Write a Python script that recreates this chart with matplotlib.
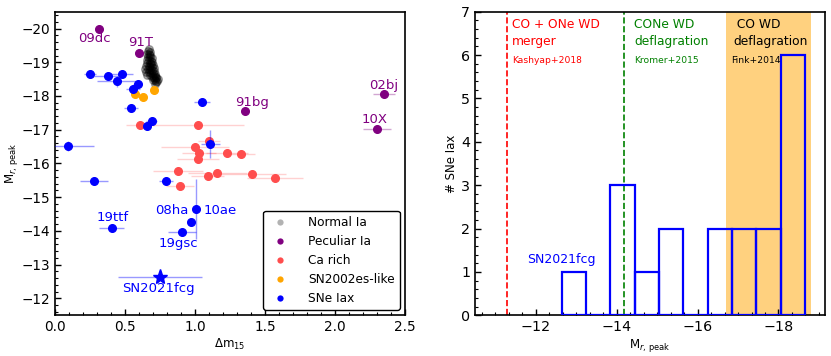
import numpy as np
import matplotlib
matplotlib.use('Agg')
import matplotlib.pyplot as plt
from matplotlib.ticker import MultipleLocator, AutoMinorLocator
from matplotlib.lines import Line2D

# normal SNe Ia (dense cluster)
norm_dm = [0.670, 0.665, 0.675, 0.660, 0.672, 0.682, 0.665, 0.678, 0.690, 0.655,
           0.668, 0.684, 0.696, 0.660, 0.675, 0.688, 0.700, 0.650, 0.668, 0.682,
           0.695, 0.706, 0.645, 0.662, 0.678, 0.692, 0.710, 0.652, 0.670, 0.686,
           0.700, 0.715, 0.660, 0.680, 0.698, 0.712, 0.724, 0.690, 0.708, 0.722,
           0.735, 0.700, 0.716, 0.730, 0.720, 0.712]
norm_mr = [-19.39, -19.33, -19.30, -19.25, -19.24, -19.22, -19.17, -19.15, -19.12, -19.08,
           -19.07, -19.05, -19.02, -18.98, -18.97, -18.95, -18.93, -18.90, -18.88, -18.87,
           -18.85, -18.83, -18.80, -18.79, -18.78, -18.76, -18.74, -18.72, -18.70, -18.69,
           -18.67, -18.65, -18.63, -18.62, -18.60, -18.58, -18.57, -18.55, -18.54, -18.52,
           -18.50, -18.48, -18.46, -18.45, -18.40, -18.36]

# peculiar Ia
pec_name = ['09dc', '91T', '91bg', '02bj', '10X']
pec_dm = [0.316, 0.60, 1.36, 2.35, 2.30]
pec_mr = [-20.0, -19.26, -17.56, -18.06, -17.01]
pec_dmerr = [0.0, 0.0, 0.0, 0.08, 0.10]

# Ca rich
ca_dm = [0.61, 1.02, 1.10, 1.00, 1.03, 1.02, 1.23, 1.33, 0.88, 1.16, 1.09, 1.41, 1.57, 0.89]
ca_mr = [-17.15, -17.13, -16.66, -16.49, -16.31, -16.14, -16.32, -16.27, -15.79, -15.73,
         -15.63, -15.68, -15.56, -15.34]
ca_dmerr = [0.10, 0.33, 0.08, 0.24, 0.12, 0.15, 0.15, 0.10, 0.18, 0.21, 0.12, 0.24, 0.20, 0.10]

# SN2002es-like
es_dm = [0.57, 0.63, 0.705]
es_mr = [-18.06, -17.96, -18.18]

# SNe Iax (last one is SN2021fcg)
iax_dm = [0.25, 0.38, 0.48, 0.44, 0.59, 0.56, 0.54, 0.69, 0.655, 1.05,
          1.11, 0.09, 0.28, 0.79, 0.405, 1.01, 0.97, 0.91, 0.75]
iax_mr = [-18.66, -18.60, -18.64, -18.43, -18.36, -18.21, -17.63, -17.26, -17.11, -17.82,
          -16.57, -16.51, -15.49, -15.47, -14.10, -14.65, -14.27, -13.96, -12.64]
iax_dmerr = [0.04, 0.10, 0.08, 0.14, 0.03, 0.05, 0.05, 0.04, 0.03, 0.06,
             0.07, 0.19, 0.10, 0.05, 0.09, 0.02, 0.02, 0.10, 0.30]
iax_mrerr = [0.10, 0.05, 0.05, 0.15, 0.10, 0.05, 0.10, 0.05, 0.10, 0.05,
             0.42, 0.15, 0.10, 0.08, 0.05, 0.88, 0.10, 0.08, 0.05]

iax_labels = {'19ttf': (0.41, -14.41, 'center'), '08ha': (0.957, -14.60, 'right'),
              '10ae': (1.06, -14.60, 'left'), '19gsc': (0.88, -13.62, 'center'),
              'SN2021fcg': (0.74, -12.29, 'center')}
pec_labels = {'09dc': (0.28, -19.7), '91T': (0.615, -19.6), '91bg': (1.41, -17.82),
              '02bj': (2.345, -18.31), '10X': (2.285, -17.30)}

fig = plt.figure(figsize=(8.31, 3.56), dpi=100)
ax1 = fig.add_axes([0.0662, 0.1143, 0.4212, 0.853])
ax2 = fig.add_axes([0.5716, 0.1143, 0.4212, 0.853])

# ---- left panel ----
ax1.plot(norm_dm, norm_mr, 'o', color='k', alpha=0.3, ms=5.5, zorder=3)
ax1.errorbar(pec_dm, pec_mr, xerr=pec_dmerr, fmt='o', color='purple', ms=5.5,
             ecolor=(0.5, 0, 0.5, 0.35), elinewidth=1, zorder=4)
ax1.errorbar(ca_dm, ca_mr, xerr=ca_dmerr, fmt='o', color=(1, 0.3, 0.3), ms=5.5,
             ecolor=(1, 0, 0, 0.18), elinewidth=1, zorder=2)
ax1.plot(es_dm, es_mr, 'o', color='orange', ms=5.5, zorder=4)
ax1.errorbar(iax_dm[:-1], iax_mr[:-1], xerr=iax_dmerr[:-1], yerr=iax_mrerr[:-1], fmt='o',
             color='b', ms=5.5, ecolor=(0, 0, 1, 0.4), elinewidth=1, zorder=5)
ax1.errorbar(iax_dm[-1:], iax_mr[-1:], xerr=iax_dmerr[-1:], yerr=iax_mrerr[-1:], fmt='*',
             color='b', ms=11, ecolor=(0, 0, 1, 0.4), elinewidth=1, zorder=5)

for name, (x, y) in pec_labels.items():
    ax1.text(x, y, name, color='purple', fontsize=9.5, ha='center', va='center')
for name, (x, y, ha) in iax_labels.items():
    ax1.text(x, y, name, color='b', fontsize=9.5, ha=ha, va='center')

ax1.set_xlim(0, 2.5)
ax1.set_ylim(-11.5, -20.5)
ax1.xaxis.set_major_locator(MultipleLocator(0.5))
ax1.xaxis.set_minor_locator(MultipleLocator(0.1))
ax1.yaxis.set_major_locator(MultipleLocator(1))
ax1.yaxis.set_minor_locator(MultipleLocator(0.2))
ax1.set_xlabel(r'$\Delta$m$_{15}$', fontsize=8.5, labelpad=2)
ax1.set_ylabel(r'M$_{r,\,\rm peak}$', fontsize=8.5, labelpad=1)

handles = [Line2D([], [], ls='', marker='o', color='k', alpha=0.3, mew=0, ms=4.5),
           Line2D([], [], ls='', marker='o', color='purple', mew=0, ms=4.5),
           Line2D([], [], ls='', marker='o', color=(1, 0.3, 0.3), mew=0, ms=4.5),
           Line2D([], [], ls='', marker='o', color='orange', mew=0, ms=4.5),
           Line2D([], [], ls='', marker='o', color='b', mew=0, ms=4.5)]
ax1.legend(handles, ['Normal Ia', 'Peculiar Ia', 'Ca rich', 'SN2002es-like', 'SNe Iax'],
           loc='lower right', fontsize=8.7, frameon=True, edgecolor='k',
           framealpha=1, borderaxespad=0.45, handletextpad=1.3, labelspacing=0.5)

# ---- right panel ----
ax2.axvspan(-16.7, -18.8, color='orange', alpha=0.5, lw=0, zorder=0)
ax2.axvline(-11.3, color='red', ls='--', lw=1.2)
ax2.axvline(-14.18, color='green', ls='--', lw=1.2)
ax2.hist(iax_mr, bins=10, fill=False, edgecolor='b', lw=1.6, zorder=3)

ax2.text(-11.41, 6.85, 'CO + ONe WD\nmerger', color='red', fontsize=8.8, va='top', ha='left',
         linespacing=1.4)
ax2.text(-11.41, 5.87, 'Kashyap+2018', color='red', fontsize=6.6, va='center', ha='left')
ax2.text(-14.43, 6.85, 'CONe WD\ndeflagration', color='green', fontsize=8.8, va='top',
         ha='left', linespacing=1.4)
ax2.text(-14.43, 5.87, 'Kromer+2015', color='green', fontsize=6.6, va='center', ha='left')
ax2.text(-16.88, 6.85, ' CO WD\ndeflagration', color='k', fontsize=8.8, va='top', ha='left',
         linespacing=1.4)
ax2.text(-16.83, 5.87, 'Fink+2014', color='k', fontsize=6.6, va='center', ha='left')
ax2.text(-11.80, 1.28, 'SN2021fcg', color='b', fontsize=9, va='center', ha='left')

ax2.set_xlim(-10.5, -19.15)
ax2.set_ylim(0, 7)
ax2.xaxis.set_major_locator(MultipleLocator(2))
ax2.xaxis.set_minor_locator(AutoMinorLocator(6))
ax2.yaxis.set_major_locator(MultipleLocator(1))
ax2.yaxis.set_minor_locator(MultipleLocator(0.2))
ax2.set_xlabel(r'M$_{r,\,\rm peak}$', fontsize=8.5, labelpad=2)
ax2.set_ylabel('# SNe Iax', fontsize=8.5, labelpad=2)

for ax, fs in ((ax1, 9.8), (ax2, 10.3)):
    ax.tick_params(which='both', direction='in', top=False, right=False, labelsize=fs)
    ax.tick_params(which='major', length=4, width=1)
    ax.tick_params(which='minor', length=2, width=0.8)
    for s in ax.spines.values():
        s.set_linewidth(1.2)

fig.savefig('out.png', dpi=100)
